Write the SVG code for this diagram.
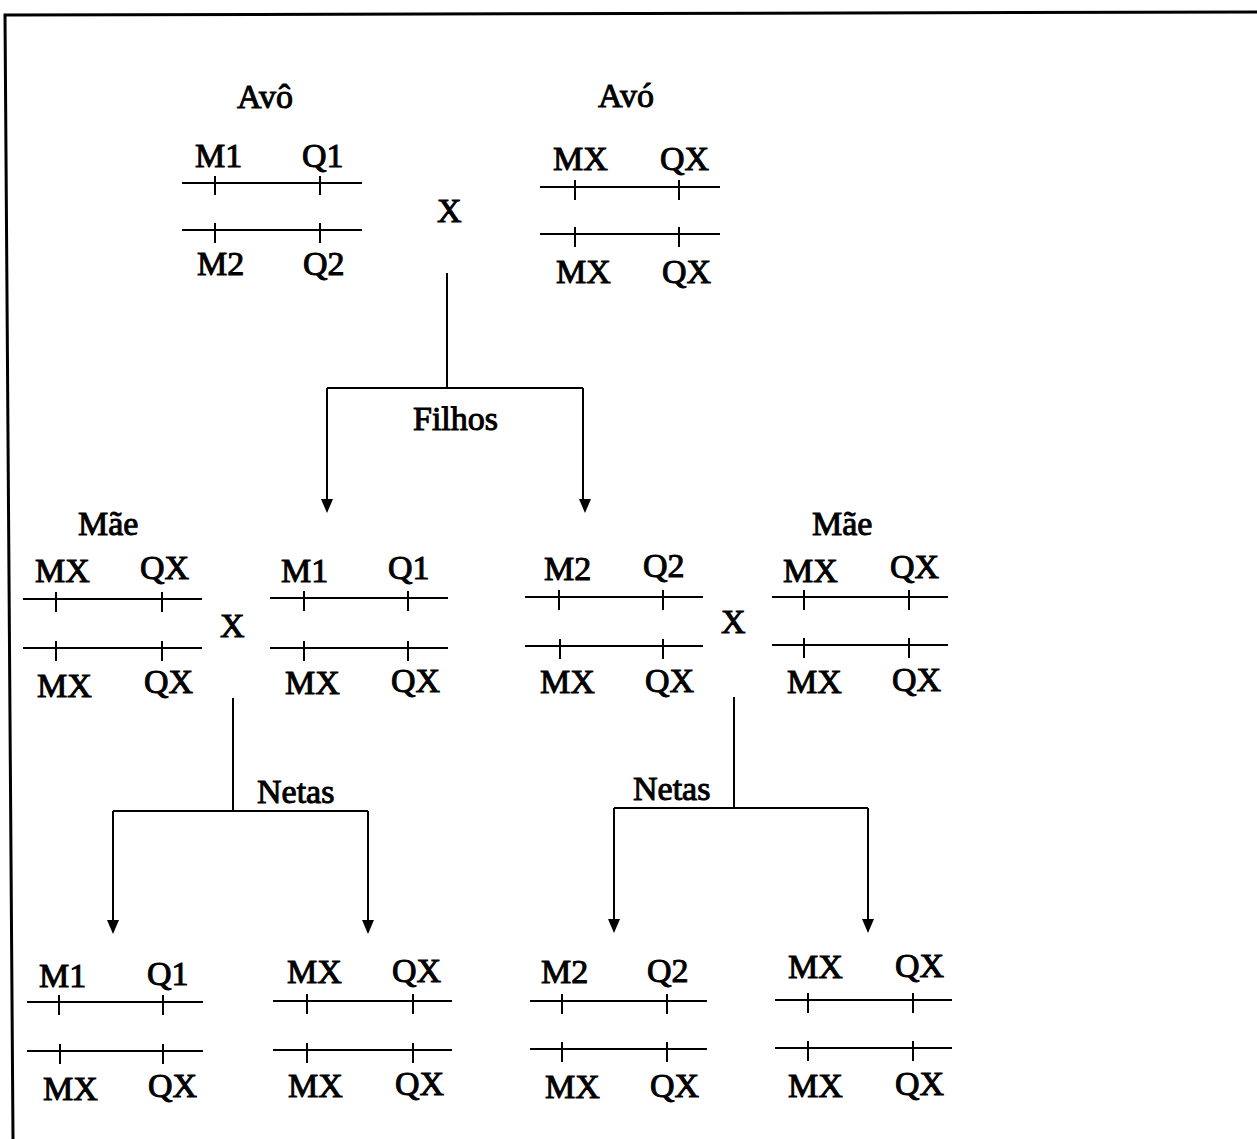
<svg xmlns="http://www.w3.org/2000/svg" width="1257" height="1139" viewBox="0 0 1257 1139">
<defs>
<style>
text{font-family:"Liberation Serif","Times New Roman",serif;font-size:34px;fill:#000;stroke:#000;stroke-width:1}
.chr{stroke:#000;stroke-width:2;fill:none}
.con{stroke:#000;stroke-width:2;fill:none}
.ah{fill:#000}
</style>
</defs>
<rect width="1257" height="1139" fill="#fff"/>
<path d="M1257,12 L5,15 L13,1139" fill="none" stroke="#000" stroke-width="3"/>

<g id="connectors">
<path class="con" d="M447,273 V388 M327,388 H583"/>
<path class="con" d="M327,388 V500"/>
<path class="con" d="M583,388 V500"/>
<path class="ah" d="M321,499 L333,499 L327,513 Z"/>
<path class="ah" d="M579,499 L591,499 L585,513 Z"/>
<path class="con" d="M233,698 V811 M113,811 H368 M113,811 V922 M368,811 V922"/>
<path class="ah" d="M107,920 L119,920 L113,934 Z"/>
<path class="ah" d="M362,920 L374,920 L368,934 Z"/>
<path class="con" d="M734,697 V808 M614,808 H868 M614,808 V921 M868,808 V921"/>
<path class="ah" d="M608,919 L620,919 L614,933 Z"/>
<path class="ah" d="M862,919 L874,919 L868,933 Z"/>
<text x="413" y="430">Filhos</text>
<text x="257" y="803">Netas</text>
<text x="633" y="800">Netas</text>
</g>

<g id="avo">
<text x="237" y="108">Avô</text>
<text x="195" y="167">M1</text>
<text x="302" y="167">Q1</text>
<path class="chr" d="M182,183 H362 M215,176 V195 M320,176 V195"/>
<path class="chr" d="M182,230 H362 M215,223 V243 M320,223 V243"/>
<text x="197" y="275">M2</text>
<text x="303" y="275">Q2</text>
</g>
<text id="x-top" x="437" y="222">X</text>

<g id="avo-f">
<text x="598" y="107">Avó</text>
<text x="553" y="170">MX</text>
<text x="660" y="170">QX</text>
<path class="chr" d="M540,187 H720 M575,180 V200 M679,180 V200"/>
<path class="chr" d="M540,234 H720 M575,227 V247 M679,227 V247"/>
<text x="556" y="283">MX</text>
<text x="662" y="283">QX</text>
</g>

<g id="mae-left">
<text x="78" y="535">Mãe</text>
<text x="35" y="582">MX</text>
<text x="140" y="579">QX</text>
<path class="chr" d="M23,599 H202 M56,592 V612 M162,592 V612"/>
<path class="chr" d="M23,648 H202 M56,641 V661 M162,641 V661"/>
<text x="37" y="697">MX</text>
<text x="144" y="693">QX</text>
</g>
<text id="x-left" x="220" y="637">X</text>

<g id="filho1">
<text x="281" y="582">M1</text>
<text x="388" y="579">Q1</text>
<path class="chr" d="M270,598 H448 M304,591 V611 M408,591 V611"/>
<path class="chr" d="M270,648 H448 M304,641 V661 M408,641 V661"/>
<text x="285" y="694">MX</text>
<text x="391" y="692">QX</text>
</g>

<g id="filho2">
<text x="544" y="580">M2</text>
<text x="643" y="577">Q2</text>
<path class="chr" d="M525,597 H703 M559,590 V610 M663,590 V610"/>
<path class="chr" d="M525,646 H703 M560,639 V659 M663,639 V659"/>
<text x="540" y="693">MX</text>
<text x="645" y="692">QX</text>
</g>
<text id="x-right" x="721" y="633">X</text>

<g id="mae-right">
<text x="812" y="535">Mãe</text>
<text x="783" y="582">MX</text>
<text x="890" y="578">QX</text>
<path class="chr" d="M772,597 H948 M804,590 V610 M909,590 V610"/>
<path class="chr" d="M772,645 H948 M804,638 V658 M909,638 V658"/>
<text x="787" y="693">MX</text>
<text x="892" y="691">QX</text>
</g>

<g id="neta1">
<text x="39" y="987">M1</text>
<text x="147" y="985">Q1</text>
<path class="chr" d="M27,1002 H203 M59,995 V1015 M163,995 V1015"/>
<path class="chr" d="M27,1051 H203 M60,1044 V1064 M163,1044 V1064"/>
<text x="43" y="1100">MX</text>
<text x="148" y="1097">QX</text>
</g>

<g id="neta2">
<text x="287" y="983">MX</text>
<text x="392" y="982">QX</text>
<path class="chr" d="M273,1001 H452 M307,994 V1014 M413,994 V1014"/>
<path class="chr" d="M273,1050 H452 M307,1043 V1063 M413,1043 V1063"/>
<text x="288" y="1097">MX</text>
<text x="395" y="1095">QX</text>
</g>

<g id="neta3">
<text x="541" y="983">M2</text>
<text x="647" y="982">Q2</text>
<path class="chr" d="M530,1001 H707 M562,994 V1014 M667,994 V1014"/>
<path class="chr" d="M530,1049 H707 M562,1042 V1062 M667,1042 V1062"/>
<text x="545" y="1098">MX</text>
<text x="650" y="1097">QX</text>
</g>

<g id="neta4">
<text x="788" y="978">MX</text>
<text x="895" y="977">QX</text>
<path class="chr" d="M775,1000 H952 M808,993 V1013 M913,993 V1013"/>
<path class="chr" d="M775,1048 H952 M808,1041 V1061 M913,1041 V1061"/>
<text x="788" y="1097">MX</text>
<text x="895" y="1095">QX</text>
</g>
</svg>
